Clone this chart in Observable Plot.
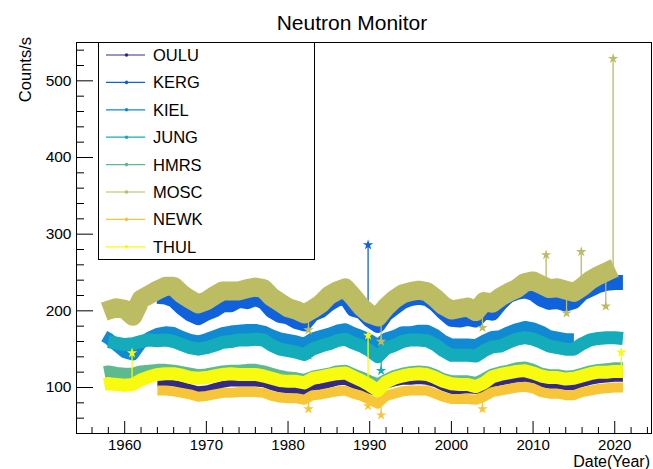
<!DOCTYPE html>
<html><head><meta charset="utf-8">
<script src="https://cdn.jsdelivr.net/npm/d3@7"></script>
<script src="https://cdn.jsdelivr.net/npm/@observablehq/plot@0.6"></script>
<style>
body{margin:0;background:#fff;}
#wrap{position:relative;width:653px;height:469px;}
</style></head><body>
<div id="wrap"></div>
<script>
// ---------- data (yearly means of each band) ----------
const stations = ["OULU","KERG","KIEL","JUNG","HMRS","MOSC","NEWK","THUL"];
const years = [1957.5,
  1958,1959,1960,1961,1962,1963,1964,1965,1966,1967,1968,1969,
  1970,1971,1972,1973,1974,1975,1976,1977,1978,1979,
  1980,1981,1982,1983,1984,1985,1986,1987,1988,1989,
  1990,1991,1992,1993,1994,1995,1996,1997,1998,1999,
  2000,2001,2002,2003,2004,2005,2006,2007,2008,2009,
  2010,2011,2012,2013,2014,2015,2016,2017,2018,2019,
  2020,2021];
const _ = null;
const oulu = [_,
  _,_,_,_,_,_,106,106,105,103,100,97,
  98,101,104,106,106,106,106,105,101,98,
  97,96,94,99,101,104,107,108,103,100,
  96,93,103,106,108,108,109,108,105,100,
  96,96,97,96,99,105,107,109,111,112,
  110,105,103,103,101,101,105,108,110,111,
  112,112];
const kerg = [_,
  _,_,_,_,_,_,219,218,214,204,196,191,
  197,201,208,208,214,212,216,212,200,194,
  192,186,183,196,200,209,215,218,202,199,
  188,181,196,204,212,216,218,216,209,198,
  189,188,190,188,199,197,210,220,224,226,
  223,215,211,212,209,212,223,228,233,236,
  237,237];
const kiel = [167,
  164,155,146,143,158,165,170,172,171,166,162,160,
  163,167,171,173,174,175,175,173,168,164,
  162,160,157,164,167,170,174,176,171,167,
  162,155,164,167,172,172,174,174,169,161,
  156,156,156,155,161,166,167,172,176,179,
  177,173,167,165,163,163,_,_,_,_,
  _,_];
const jung = [_,
  160,158,156,157,160,162,161,162,160,156,152,150,
  152,155,159,160,162,162,163,162,155,150,
  148,146,143,150,154,157,161,163,158,154,
  148,140,151,155,160,162,162,161,156,148,
  142,142,142,141,148,153,154,159,163,165,
  163,159,154,152,150,150,157,162,164,165,
  165,164];
const hmrs = [120,
  121,119,118,118,121,122,123,123,122,120,118,116,
  117,119,121,122,122,123,123,121,118,115,
  113,112,110,114,116,118,121,122,117,113,
  108,104,110,115,118,120,121,120,116,111,
  108,108,108,106,111,117,120,122,125,126,
  123,118,116,116,114,115,118,121,123,124,
  125,125];
const mosc = [199,
  201,204,202,193,215,221,227,232,232,222,215,209,
  213,220,226,226,226,229,231,229,218,211,
  204,201,196,202,209,220,226,230,218,205,
  196,192,205,215,222,225,227,225,217,207,
  201,203,205,199,212,210,218,224,229,237,
  239,234,229,230,227,224,231,240,246,251,
  256,_];
const newk = [_,
  _,_,_,_,_,_,96,96,95,93,91,88,
  89,91,93,93,94,94,94,93,89,87,
  86,86,84,90,91,93,95,96,92,89,
  84,79,89,92,95,96,96,96,92,88,
  85,85,85,84,88,94,96,98,100,101,
  99,94,92,92,90,90,94,96,98,99,
  100,100];
const thul = [104,
  105,104,103,104,110,114,117,118,118,116,113,112,
  113,115,117,118,117,117,117,115,112,109,
  108,108,106,112,114,116,118,119,114,109,
  103,96,107,112,115,117,118,117,113,108,
  105,104,104,101,106,114,117,119,121,122,
  119,115,113,113,111,112,115,118,120,120,
  121,121];
// isolated single-day excursions (station, year, counts/s)
const spikeStation = ["KERG","MOSC","MOSC","MOSC","MOSC","MOSC","MOSC","MOSC","MOSC","THUL","THUL","THUL","NEWK","NEWK","NEWK","NEWK","JUNG","KIEL"];
const spikeYear    = [1989.8,2019.8,2011.6,2015.9,2014.1,2018.9,1991.4,2003.8,1982.5,1960.9,1989.8,2020.8,1991.4,2003.8,1982.5,1989.8,1991.4,1982.5];
const spikeValue   = [286,529,273,277,197,206,160,178,175,145,168,146,64,72,72,76,122,142];
// axis ticks
const xMajor = [1960,1970,1980,1990,2000,2010,2020];
const xMinor = [1956,1958,1962,1964,1966,1968,1972,1974,1976,1978,1982,1984,1986,1988,1992,1994,1996,1998,2002,2004,2006,2008,2012,2014,2016,2018,2022,2024];
const yMajor = [100,200,300,400,500];
const yMinor = [60,80,120,140,160,180,220,240,260,280,320,340,360,380,420,440,460,480,520,540];

// ---------- styling ----------
const seriesValues = {OULU: oulu, KERG: kerg, KIEL: kiel, JUNG: jung, HMRS: hmrs, MOSC: mosc, NEWK: newk, THUL: thul};
const colors = {OULU:"#352a87", KERG:"#1061dc", KIEL:"#108ad3", JUNG:"#14acba", HMRS:"#5dba8e", MOSC:"#bcbc62", NEWK:"#f7c638", THUL:"#f9fb0e"};
const bandWidth = {OULU:7, KERG:15, KIEL:12, JUNG:13, HMRS:12, MOSC:19, NEWK:10, THUL:13};

const W = 653, H = 469, mL = 76, mR = 2, mT = 42, mB = 36;
const fw = W - mL - mR, fh = H - mT - mB;

const marks = [];
for (const s of stations) {
  const vals = seriesValues[s];
  const rows = years.map((t, i) => ({year: t, v: vals[i]}));
  marks.push(Plot.line(rows, {x: "year", y: "v", stroke: colors[s], strokeWidth: bandWidth[s], strokeLinejoin: "round", strokeLinecap: "butt"}));
  const sp = [];
  spikeStation.forEach((st, i) => {
    if (st !== s) return;
    let best = 0;
    years.forEach((t, j) => { if (vals[j] != null && (vals[best] == null || Math.abs(t - spikeYear[i]) < Math.abs(years[best] - spikeYear[i]))) best = j; });
    sp.push({year: spikeYear[i], v: spikeValue[i], base: vals[best]});
  });
  if (sp.length) {
    marks.push(Plot.ruleX(sp, {x: "year", y1: "base", y2: "v", stroke: colors[s], strokeWidth: 1.3}));
    marks.push(Plot.dot(sp, {x: "year", y: "v", r: 1.8, fill: colors[s], stroke: colors[s], symbol: "star"}));
  }
}
marks.push(
  Plot.frame({stroke: "#000", strokeWidth: 1}),
  Plot.tickY(yMajor, {y: d => d, insetRight: fw - 17, stroke: "#000"}),
  Plot.tickY(yMinor, {y: d => d, insetRight: fw - 8, stroke: "#000"}),
  Plot.tickX(xMajor, {x: d => d, insetTop: fh - 12, stroke: "#000"}),
  Plot.tickX(xMinor, {x: d => d, insetTop: fh - 6, stroke: "#000"}),
  Plot.axisY(yMajor, {anchor: "left", tickSize: 0, tickPadding: 5, label: null, tickFormat: d => String(d), fontSize: 15.5}),
  Plot.axisX(xMajor, {anchor: "bottom", tickSize: 0, tickPadding: 6, label: null, tickFormat: d => String(d), fontSize: 15})
);

const svg = Plot.plot({
  width: W, height: H,
  marginLeft: mL, marginRight: mR, marginTop: mT, marginBottom: mB,
  x: {domain: [1954.1, 2024.5]},
  y: {domain: [40, 550]},
  style: {fontFamily: "'Liberation Sans', Arial, Helvetica, sans-serif", fontSize: "15.5px", background: "#fff", color: "#000"},
  marks
});
document.getElementById("wrap").append(svg);

// ---------- titles and legend ----------
const g = d3.select(svg);
const ff = "'Liberation Sans', Arial, Helvetica, sans-serif";
g.append("text").attr("x", 352).attr("y", 30).attr("text-anchor", "middle")
  .attr("font-family", ff).attr("font-size", 21).attr("fill", "#000").text("Neutron Monitor");
g.append("text").attr("transform", "translate(31,37) rotate(-90)").attr("text-anchor", "end")
  .attr("font-family", ff).attr("font-size", 16.5).attr("fill", "#000").text("Counts/s");
g.append("text").attr("x", 650).attr("y", 467).attr("text-anchor", "end")
  .attr("font-family", ff).attr("font-size", 16).attr("fill", "#000").text("Date(Year)");

const leg = g.append("g");
leg.append("rect").attr("x", 98.5).attr("y", 42.5).attr("width", 216).attr("height", 217)
  .attr("fill", "#fff").attr("stroke", "#000").attr("stroke-width", 1);
stations.forEach((s, i) => {
  const y = 55 + i * 27.4;
  leg.append("line").attr("x1", 106).attr("x2", 145).attr("y1", y).attr("y2", y)
    .attr("stroke", colors[s]).attr("stroke-width", 1.2);
  leg.append("circle").attr("cx", 126.5).attr("cy", y).attr("r", 1.8).attr("fill", colors[s]);
  leg.append("text").attr("x", 153).attr("y", y).attr("dy", "0.36em").attr("text-anchor", "start")
    .attr("font-family", ff).attr("font-size", 16.5).attr("fill", "#000").text(s);
});
</script></body></html>
